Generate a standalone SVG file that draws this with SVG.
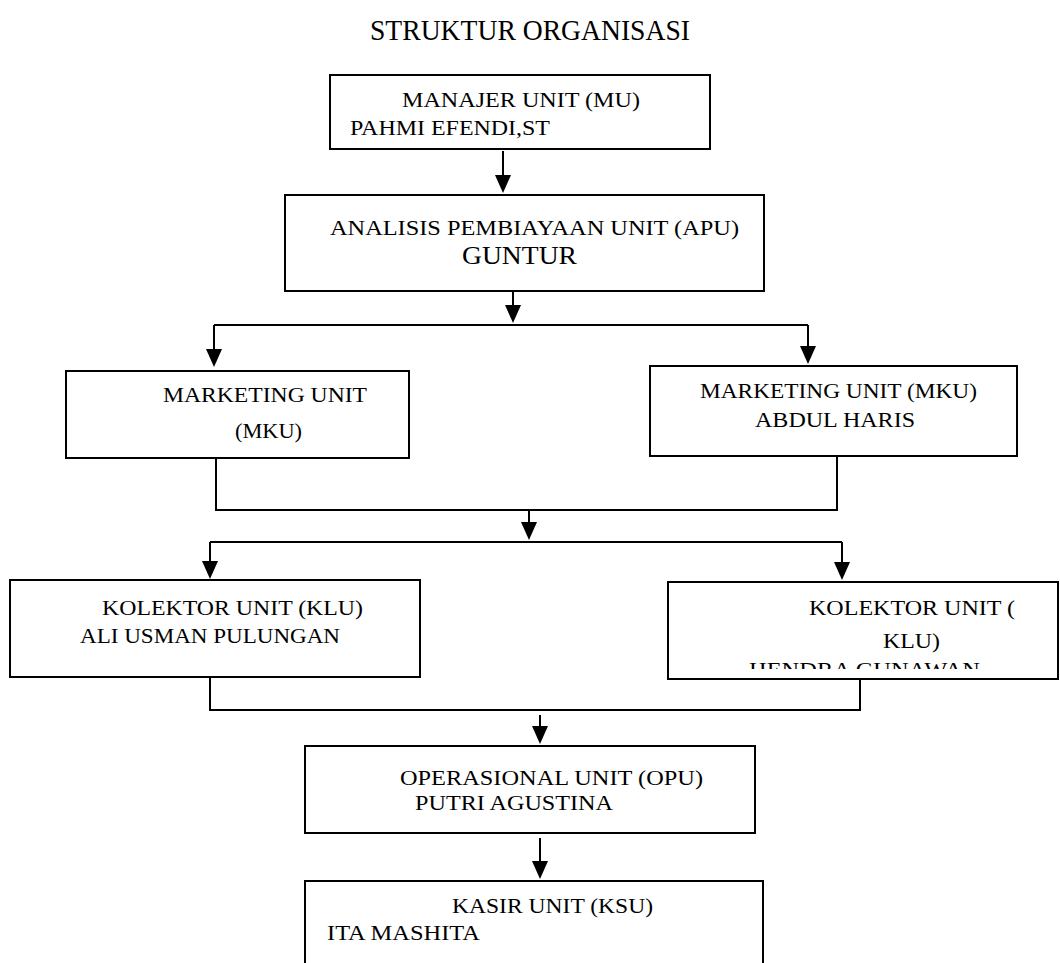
<svg xmlns="http://www.w3.org/2000/svg" width="1060" height="963" viewBox="0 0 1060 963">
<style>
.box{fill:#fff;stroke:#000;stroke-width:2}
.ln{fill:none;stroke:#000;stroke-width:2}
.t{font-family:"Liberation Serif","Times New Roman",serif;font-size:21px;fill:#000}
.big{font-size:25px}
.head{fill:#000}
</style>
<defs>
<clipPath id="clipH"><rect x="668" y="582" width="390" height="87"/></clipPath>
</defs>
<rect width="1060" height="963" fill="#fff"/>
<text class="t" x="370" y="40" style="font-size:29px" textLength="320" lengthAdjust="spacingAndGlyphs">STRUKTUR ORGANISASI</text>

<g id="connectors">
<path class="ln" d="M503,151 V180"/>
<path class="ln" d="M513,291 V310"/>
<path class="ln" d="M214,325 H808"/>
<path class="ln" d="M214,325 V355"/>
<path class="ln" d="M808,325 V352"/>
<path class="ln" d="M216,458 V510 H837 V456"/>
<path class="ln" d="M529,510 V527"/>
<path class="ln" d="M210,542 H842"/>
<path class="ln" d="M210,542 V565"/>
<path class="ln" d="M842,542 V566"/>
<path class="ln" d="M210,677 V710 H860 V679"/>
<path class="ln" d="M540,715 V730"/>
<path class="ln" d="M540,838 V865"/>
<g class="head">
<polygon points="495,175 511,175 503,193"/>
<polygon points="505,305 521,305 513,323"/>
<polygon points="206,349 222,349 214,367"/>
<polygon points="800,346 816,346 808,364"/>
<polygon points="521,522 537,522 529,540"/>
<polygon points="202,561 218,561 210,579"/>
<polygon points="834,562 850,562 842,580"/>
<polygon points="532,726 548,726 540,744"/>
<polygon points="532,861 548,861 540,879"/>
</g>
</g>

<g id="mu">
<rect class="box" x="330" y="75" width="380" height="74"/>
<text class="t" x="402" y="107" textLength="238" lengthAdjust="spacingAndGlyphs">MANAJER UNIT (MU)</text>
<text class="t" x="350" y="135" textLength="200" lengthAdjust="spacingAndGlyphs">PAHMI EFENDI,ST</text>
</g>

<g id="apu">
<rect class="box" x="285" y="195" width="479" height="96"/>
<text class="t" x="330" y="235" textLength="409" lengthAdjust="spacingAndGlyphs">ANALISIS PEMBIAYAAN UNIT (APU)</text>
<text class="t big" x="462" y="264" textLength="115" lengthAdjust="spacingAndGlyphs">GUNTUR</text>
</g>

<g id="mku-left">
<rect class="box" x="66" y="371" width="343" height="87"/>
<text class="t" x="163" y="402" textLength="204" lengthAdjust="spacingAndGlyphs">MARKETING UNIT</text>
<text class="t" x="235" y="438" textLength="67" lengthAdjust="spacingAndGlyphs">(MKU)</text>
</g>

<g id="mku-right">
<rect class="box" x="650" y="366" width="367" height="90"/>
<text class="t" x="700" y="398" textLength="277" lengthAdjust="spacingAndGlyphs">MARKETING UNIT (MKU)</text>
<text class="t" x="755" y="427" textLength="160" lengthAdjust="spacingAndGlyphs">ABDUL HARIS</text>
</g>

<g id="klu-left">
<rect class="box" x="10" y="580" width="410" height="97"/>
<text class="t" x="102" y="615" textLength="261" lengthAdjust="spacingAndGlyphs">KOLEKTOR UNIT (KLU)</text>
<text class="t" x="80" y="643" textLength="260" lengthAdjust="spacingAndGlyphs">ALI USMAN PULUNGAN</text>
</g>

<g id="klu-right">
<rect class="box" x="668" y="582" width="390" height="97"/>
<text class="t" x="809" y="615" textLength="206" lengthAdjust="spacingAndGlyphs">KOLEKTOR UNIT (</text>
<text class="t" x="883" y="648" textLength="57" lengthAdjust="spacingAndGlyphs">KLU)</text>
<text class="t" x="749" y="677" textLength="231" lengthAdjust="spacingAndGlyphs" clip-path="url(#clipH)">HENDRA GUNAWAN</text>
</g>

<g id="opu">
<rect class="box" x="305" y="746" width="450" height="87"/>
<text class="t" x="400" y="785" textLength="303" lengthAdjust="spacingAndGlyphs">OPERASIONAL UNIT (OPU)</text>
<text class="t" x="415" y="810" textLength="198" lengthAdjust="spacingAndGlyphs">PUTRI AGUSTINA</text>
</g>

<g id="ksu">
<rect class="box" x="305" y="881" width="458" height="100"/>
<text class="t" x="452" y="913" textLength="201" lengthAdjust="spacingAndGlyphs">KASIR UNIT (KSU)</text>
<text class="t" x="327" y="940" textLength="153" lengthAdjust="spacingAndGlyphs">ITA MASHITA</text>
</g>
</svg>
